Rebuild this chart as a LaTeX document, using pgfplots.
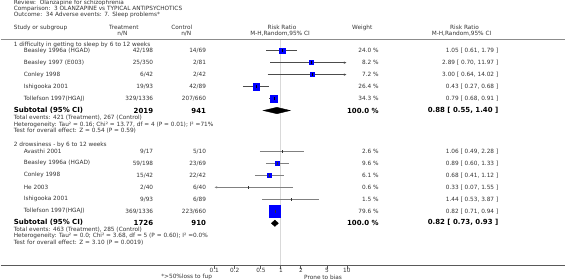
\documentclass[border=0pt]{standalone}
\usepackage{fontspec}
\setmainfont{DejaVu Sans}
\usepackage{pgfplots}
\pgfplotsset{compat=1.18}
\usetikzlibrary{arrows.meta}
\newcommand{\ft}{\fontsize{5.8}{7}\selectfont}
\newcommand{\fb}{\fontsize{7}{8}\selectfont\bfseries}
\definecolor{txt}{gray}{0.2}
\begin{document}
\begin{tikzpicture}
\pgfplotsset{frame/.style={scale only axis, width=566pt, height=305pt, hide axis, clip=false, y dir=reverse, ymin=0, ymax=305, at={(0,0)}, anchor=south west}}
% ---------------- data axis (log scale) ----------------
\begin{axis}[frame, xmode=log, xmin=6.05e-5, xmax=19640]
% reference line and axes
\addplot[black!15, line width=1.8pt] coordinates {(1,49)(1,275)};
\addplot[black!45, line width=1.4pt] coordinates {(6.05e-5,49)(19640,49)};
\addplot[black!65, line width=0.8pt] coordinates {(6.05e-5,275)(19640,275)};
\addplot[only marks, mark=|, mark size=1.5pt, black!65] coordinates {(0.1,277)(0.2,277)(0.5,277)(1,277)(2,277)(5,277)(10,277)};
% ---- group 1 ----
\addplot[black!70, line width=0.6pt] coordinates {(0.61,60)(1.79,60)};
\addplot[black!70, line width=0.6pt, -{Latex[length=3pt,width=2.4pt]}] coordinates {(0.70,72)(10,72)};
\addplot[black!70, line width=0.6pt, -{Latex[length=3pt,width=2.4pt]}] coordinates {(0.64,84)(10,84)};
\addplot[black!70, line width=0.6pt] coordinates {(0.27,96)(0.68,96)};
\addplot[black!70, line width=0.6pt] coordinates {(0.68,108)(0.91,108)};
\addplot[only marks, mark=square*, mark size=2.8pt, blue] coordinates {(1.05,60)};
\addplot[only marks, mark=square*, mark size=2pt, blue] coordinates {(2.89,72)};
\addplot[only marks, mark=square*, mark size=2pt, blue] coordinates {(3.00,84)};
\addplot[only marks, mark=square*, mark size=3.3pt, blue] coordinates {(0.43,96)};
\addplot[only marks, mark=square*, mark size=3.4pt, blue] coordinates {(0.79,108)};
\addplot[only marks, mark=|, mark size=1.3pt, black] coordinates {(1.05,60)(2.89,72)(3.00,84)(0.43,96)(0.79,108)};
\addplot[fill=black, draw=black] coordinates {(0.55,120)(0.88,116.8)(1.40,120)(0.88,123.2)} -- cycle;
% ---- group 2 ----
\addplot[black!50, line width=0.6pt] coordinates {(0.49,161)(2.28,161)};
\addplot[black!50, line width=0.6pt] coordinates {(0.60,173)(1.33,173)};
\addplot[black!50, line width=0.6pt] coordinates {(0.41,185)(1.12,185)};
\addplot[black!50, line width=0.6pt, -{Latex[length=3pt,width=2.4pt]}] coordinates {(1.55,197)(0.1,197)};
\addplot[black!50, line width=0.6pt] coordinates {(0.53,209)(3.87,209)};
\addplot[black!50, line width=0.6pt] coordinates {(0.71,221)(0.94,221)};
\addplot[only marks, mark=square*, mark size=2pt, blue] coordinates {(0.89,173)};
\addplot[only marks, mark=square*, mark size=2pt, blue] coordinates {(0.68,185)};
\addplot[only marks, mark=square*, mark size=5.7pt, blue] coordinates {(0.82,221)};
\addplot[only marks, mark=|, mark size=1.3pt, black!80] coordinates {(1.06,161)(0.89,173)(0.68,185)(0.33,197)(1.44,209)(0.82,221)};
\addplot[fill=black, draw=black] coordinates {(0.73,233)(0.82,229.8)(0.93,233)(0.82,236.2)} -- cycle;
\end{axis}
% ---------------- text axis (pixel coordinates) ----------------
\begin{axis}[frame, xmin=0, xmax=566]
\begin{scope}[every node/.style={text=txt, inner sep=0pt, font=\ft}]
\node[anchor=west] at (axis cs:13,12) {Review:\ \ Olanzapine for schizophrenia};
\node[anchor=west] at (axis cs:13,18) {Comparison:\ \ 3 OLANZAPINE vs TYPICAL ANTIPSYCHOTICS};
\node[anchor=west] at (axis cs:13,24.5) {Outcome:\ \ 34 Adverse events: 7. Sleep problems*};
% header
\node[anchor=west] at (axis cs:13,37) {Study or subgroup};
\node at (axis cs:123.5,37) {Treatment};
\node at (axis cs:122,43) {n/N};
\node at (axis cs:181.5,37) {Control};
\node at (axis cs:186,43) {n/N};
\node at (axis cs:282,37) {Risk Ratio};
\node at (axis cs:280,43) {M-H,Random,95\% CI};
\node at (axis cs:362.5,37) {Weight};
\node at (axis cs:465,37) {Risk Ratio};
\node at (axis cs:462,43) {M-H,Random,95\% CI};
% group 1
\node[anchor=west] at (axis cs:13,54) {1 difficulty in getting to sleep by 6 to 12 weeks};
\node[anchor=west] at (axis cs:23,60) {Beasley 1996a (HGAD)};
\node[anchor=west] at (axis cs:23,72) {Beasley 1997 (E003)};
\node[anchor=west] at (axis cs:23,84) {Conley 1998};
\node[anchor=west] at (axis cs:23,96) {Ishigooka 2001};
\node[anchor=west] at (axis cs:23,108) {Tollefson 1997(HGAJ)};
\node[anchor=east] at (axis cs:153,60) {42/198};
\node[anchor=east] at (axis cs:153,72) {25/350};
\node[anchor=east] at (axis cs:153,84) {6/42};
\node[anchor=east] at (axis cs:153,96) {19/93};
\node[anchor=east] at (axis cs:153,108) {329/1336};
\node[anchor=east] at (axis cs:206,60) {14/69};
\node[anchor=east] at (axis cs:206,72) {2/81};
\node[anchor=east] at (axis cs:206,84) {2/42};
\node[anchor=east] at (axis cs:206,96) {42/89};
\node[anchor=east] at (axis cs:206,108) {207/660};
\node[anchor=east] at (axis cs:379,60) {24.0 \%};
\node[anchor=east] at (axis cs:379,72) {8.2 \%};
\node[anchor=east] at (axis cs:379,84) {7.2 \%};
\node[anchor=east] at (axis cs:379,96) {26.4 \%};
\node[anchor=east] at (axis cs:379,108) {34.3 \%};
\node[anchor=east] at (axis cs:499,60) {1.05 [ 0.61, 1.79 ]};
\node[anchor=east] at (axis cs:499,72) {2.89 [ 0.70, 11.97 ]};
\node[anchor=east] at (axis cs:499,84) {3.00 [ 0.64, 14.02 ]};
\node[anchor=east] at (axis cs:499,96) {0.43 [ 0.27, 0.68 ]};
\node[anchor=east] at (axis cs:499,108) {0.79 [ 0.68, 0.91 ]};
\node[anchor=west, font=\fb, text=black] at (axis cs:13,120) {Subtotal (95\% CI)};
\node[anchor=east, font=\fb, text=black] at (axis cs:153,120) {2019};
\node[anchor=east, font=\fb, text=black] at (axis cs:206,120) {941};
\node[anchor=east, font=\fb, text=black] at (axis cs:379,120) {100.0 \%};
\node[anchor=east, font=\fb, text=black] at (axis cs:499,120) {0.88 [ 0.55, 1.40 ]};
\node[anchor=west] at (axis cs:13,127.5) {Total events: 421 (Treatment), 267 (Control)};
\node[anchor=west] at (axis cs:13,134) {Heterogeneity: Tau² = 0.16; Chi² = 13.77, df = 4 (P = 0.01); I² =71\%};
\node[anchor=west] at (axis cs:13,140.5) {Test for overall effect: Z = 0.54 (P = 0.59)};
% group 2
\node[anchor=west] at (axis cs:13,154) {2 drowsiness - by 6 to 12 weeks};
\node[anchor=west] at (axis cs:23,161) {Avasthi 2001};
\node[anchor=west] at (axis cs:23,173) {Beasley 1996a (HGAD)};
\node[anchor=west] at (axis cs:23,185) {Conley 1998};
\node[anchor=west] at (axis cs:23,197) {He 2003};
\node[anchor=west] at (axis cs:23,209) {Ishigooka 2001};
\node[anchor=west] at (axis cs:23,221) {Tollefson 1997(HGAJ)};
\node[anchor=east] at (axis cs:153,161) {9/17};
\node[anchor=east] at (axis cs:153,173) {59/198};
\node[anchor=east] at (axis cs:153,185) {15/42};
\node[anchor=east] at (axis cs:153,197) {2/40};
\node[anchor=east] at (axis cs:153,209) {9/93};
\node[anchor=east] at (axis cs:153,221) {369/1336};
\node[anchor=east] at (axis cs:206,161) {5/10};
\node[anchor=east] at (axis cs:206,173) {23/69};
\node[anchor=east] at (axis cs:206,185) {22/42};
\node[anchor=east] at (axis cs:206,197) {6/40};
\node[anchor=east] at (axis cs:206,209) {6/89};
\node[anchor=east] at (axis cs:206,221) {223/660};
\node[anchor=east] at (axis cs:379,161) {2.6 \%};
\node[anchor=east] at (axis cs:379,173) {9.6 \%};
\node[anchor=east] at (axis cs:379,185) {6.1 \%};
\node[anchor=east] at (axis cs:379,197) {0.6 \%};
\node[anchor=east] at (axis cs:379,209) {1.5 \%};
\node[anchor=east] at (axis cs:379,221) {79.6 \%};
\node[anchor=east] at (axis cs:499,161) {1.06 [ 0.49, 2.28 ]};
\node[anchor=east] at (axis cs:499,173) {0.89 [ 0.60, 1.33 ]};
\node[anchor=east] at (axis cs:499,185) {0.68 [ 0.41, 1.12 ]};
\node[anchor=east] at (axis cs:499,197) {0.33 [ 0.07, 1.55 ]};
\node[anchor=east] at (axis cs:499,209) {1.44 [ 0.53, 3.87 ]};
\node[anchor=east] at (axis cs:499,221) {0.82 [ 0.71, 0.94 ]};
\node[anchor=west, font=\fb, text=black] at (axis cs:13,232.5) {Subtotal (95\% CI)};
\node[anchor=east, font=\fb, text=black] at (axis cs:153,232.5) {1726};
\node[anchor=east, font=\fb, text=black] at (axis cs:206,232.5) {910};
\node[anchor=east, font=\fb, text=black] at (axis cs:379,232.5) {100.0 \%};
\node[anchor=east, font=\fb, text=black] at (axis cs:499,232.5) {0.82 [ 0.73, 0.93 ]};
\node[anchor=west] at (axis cs:13,239.5) {Total events: 463 (Treatment), 285 (Control)};
\node[anchor=west] at (axis cs:13,246) {Heterogeneity: Tau² = 0.0; Chi² = 3.68, df = 5 (P = 0.60); I² =0.0\%};
\node[anchor=west] at (axis cs:13,252.5) {Test for overall effect: Z = 3.10 (P = 0.0019)};
% axis labels
\node at (axis cs:214,280.5) {0.1};
\node at (axis cs:234.5,280.5) {0.2};
\node at (axis cs:261,280.5) {0.5};
\node at (axis cs:281,280.5) {1};
\node at (axis cs:301,280.5) {2};
\node at (axis cs:327,280.5) {5};
\node at (axis cs:347,280.5) {10};
\node[anchor=east] at (axis cs:212,287) {*>50\%loss to fup};
\node[anchor=west] at (axis cs:304,287) {Prone to bias};
\end{scope}
\end{axis}
\end{tikzpicture}
\end{document}
